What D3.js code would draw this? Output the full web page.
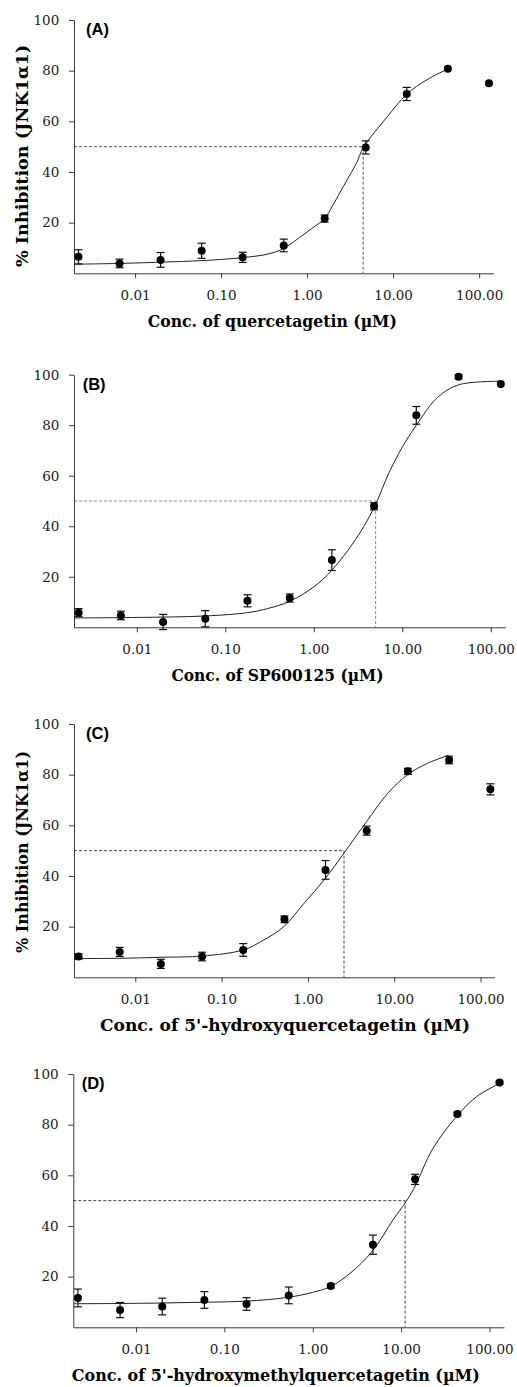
<!DOCTYPE html>
<html>
<head>
<meta charset="utf-8">
<script src="https://cdn.jsdelivr.net/npm/d3@7"></script>
<style>
  html, body { margin: 0; padding: 0; background: #fff; }
  svg { display: block; }
</style>
</head>
<body>
<script>
// ---------- DATA ----------
const conc = [0.0022, 0.0066, 0.0198, 0.0594, 0.178, 0.535, 1.6, 4.8, 14.4, 43.3, 130];
const xTicks = [0.01, 0.1, 1, 10, 100];
const xTickLabels = ["0.01", "0.10", "1.00", "10.00", "100.00"];
const yTicks = [20, 40, 60, 80, 100];

const inhibA = [6.5, 3.9, 5.3, 8.9, 6.3, 11.0, 21.6, 49.7, 70.8, 80.8, 75.0];
const errA   = [2.8, 1.7, 2.9, 3.0, 2.0, 2.5, 1.4, 2.6, 2.6, 0, 0];
const curveAx = [0.00195, 0.0066, 0.02, 0.06, 0.178, 0.35, 0.535, 0.82, 1.2, 1.6, 2.0, 2.87, 3.75, 4.5, 8.4, 14.4, 24.4, 43.3];
const curveAy = [3.6, 3.9, 4.4, 5.0, 6.2, 7.6, 9.8, 14.2, 18.3, 21.6, 27.0, 36.5, 43.5, 49.6, 61.5, 70.7, 76.3, 80.7];
const ic50A = 4.48;

const inhibB = [5.8, 4.7, 2.1, 3.4, 10.5, 11.6, 26.6, 47.9, 83.9, 99.2, 96.3];
const errB   = [1.6, 1.7, 3.0, 3.2, 2.4, 1.6, 4.1, 1.4, 3.5, 0.8, 0];
const curveBx = [0.00195, 0.01, 0.06, 0.178, 0.3, 0.535, 1.0, 1.6, 3.0, 4.8, 7.0, 10, 14.4, 25, 43.3, 130];
const curveBy = [3.7, 3.9, 4.5, 5.8, 7.4, 10.3, 16.0, 22.6, 35.0, 47.4, 60.8, 71.3, 80.0, 91.0, 96.0, 97.4];
const ic50B = 5.0;

const inhibC = [8.2, 10.0, 5.3, 8.2, 10.8, 22.9, 42.4, 57.9, 81.3, 85.8, 74.2];
const errC   = [1.0, 1.8, 1.8, 1.7, 2.5, 1.3, 3.7, 1.8, 1.2, 1.5, 2.2];
const curveCx = [0.00195, 0.0066, 0.02, 0.06, 0.178, 0.3, 0.526, 0.9, 1.6, 2.69, 4.77, 8.4, 14.3, 24.4, 43.2];
const curveCy = [7.4, 7.5, 7.9, 8.4, 10.8, 14.5, 20.0, 29.2, 39.1, 49.6, 61.4, 72.6, 80.0, 84.5, 87.7];
const ic50C = 2.62;

const inhibD = [11.6, 6.8, 8.2, 10.8, 9.2, 12.6, 16.3, 32.6, 58.4, 84.2, 96.6];
const errD   = [3.5, 3.0, 3.3, 3.3, 2.5, 3.3, 0.8, 3.8, 2.0, 0.7, 0.5];
const curveDx = [0.00195, 0.0066, 0.02, 0.06, 0.175, 0.52, 1.0, 1.57, 2.64, 4.67, 8.1, 11.2, 14.0, 23, 41.7, 71, 125.5];
const curveDy = [9.3, 9.4, 9.6, 9.9, 10.3, 11.8, 13.8, 16.0, 21.3, 29.8, 42.4, 49.3, 54.9, 70.7, 82.9, 91.0, 96.0];
const ic50D = 11.1;

const xTitles = ["Conc. of quercetagetin (\u00b5M)", "Conc. of SP600125 (\u00b5M)",
                 "Conc. of 5'-hydroxyquercetagetin (\u00b5M)", "Conc. of 5'-hydroxymethylquercetagetin (\u00b5M)"];
const yTitle = "% Inhibition (JNK1\u03b11)";
const panelLabels = ["(A)", "(B)", "(C)", "(D)"];

// ---------- LAYOUT ----------
const layout = [
  {left: 74, right: 493.3, top: 20, bottom: 273.3, labelX: 86, titleX: 272.3, titleW: 249, yTitle: {cy: 156, len: 222}, dash: "#555"},
  {left: 74, right: 505.3, top: 374.7, bottom: 627.3, labelX: 82.7, titleX: 277.5, titleW: 212, yTitle: null, dash: "#8a8a8a"},
  {left: 74, right: 494.7, top: 724, bottom: 977.3, labelX: 86, titleX: 285, titleW: 370, yTitle: {cy: 852, len: 202}, dash: "#444"},
  {left: 73.3, right: 504, top: 1074, bottom: 1327.3, labelX: 81.7, titleX: 275.8, titleW: 408, yTitle: null, dash: "#444"}
];
const series = [
  {v: inhibA, e: errA, cx: curveAx, cy: curveAy, ic: ic50A},
  {v: inhibB, e: errB, cx: curveBx, cy: curveBy, ic: ic50B},
  {v: inhibC, e: errC, cx: curveCx, cy: curveCy, ic: ic50C},
  {v: inhibD, e: errD, cx: curveDx, cy: curveDy, ic: ic50D}
];

const svg = d3.select("body").append("svg").attr("width", 517).attr("height", 1387);
const axisColor = "#3a3a3a";
const serif = "'DejaVu Serif', serif";

layout.forEach((L, i) => {
  const S = series[i];
  const x = d3.scaleLog().domain([0.00195, 146]).range([L.left, L.right]);
  const y = d3.scaleLinear().domain([0, 100]).range([L.bottom, L.top]);
  const g = svg.append("g");

  // dashed IC50 guide lines
  g.append("line").attr("x1", L.left).attr("x2", x(S.ic)).attr("y1", y(50)).attr("y2", y(50))
    .attr("stroke", L.dash).attr("stroke-width", 1).attr("stroke-dasharray", "3,2");
  g.append("line").attr("x1", x(S.ic)).attr("x2", x(S.ic)).attr("y1", y(50)).attr("y2", y(0))
    .attr("stroke", L.dash).attr("stroke-width", 1).attr("stroke-dasharray", "3,2");

  // axes
  const xa = g.append("g").attr("transform", `translate(0,${y(0)})`)
    .call(d3.axisBottom(x).tickValues(xTicks).tickFormat((d, k) => xTickLabels[k]).tickSize(5).tickSizeOuter(0));
  xa.selectAll("text").attr("dy", 0).attr("y", 26.5)
    .style("font-family", serif).style("font-size", "13.5px").attr("fill", "#1a1a1a");
  const ya = g.append("g").attr("transform", `translate(${L.left},0)`)
    .call(d3.axisLeft(y).tickValues(yTicks).tickSize(5).tickSizeOuter(0).tickPadding(9.7));
  ya.selectAll("text").style("font-family", serif).style("font-size", "13.5px").attr("fill", "#1a1a1a");
  [xa, ya].forEach(a => { a.selectAll("path,line").attr("stroke", axisColor); a.attr("font-family", null); });

  // fitted curve
  const pts = S.cx.map((c, k) => [c, S.cy[k]]);
  g.append("path").datum(pts)
    .attr("d", d3.line().x(d => x(d[0])).y(d => y(d[1])).curve(d3.curveCatmullRom.alpha(0.5)))
    .attr("fill", "none").attr("stroke", "#222").attr("stroke-width", 1);

  // error bars
  const data = conc.map((c, k) => ({c, v: S.v[k], e: S.e[k]})).filter(d => d.e > 0);
  const eb = g.append("g").attr("stroke", "#111").attr("stroke-width", 1.2);
  data.forEach(d => {
    eb.append("line").attr("x1", x(d.c)).attr("x2", x(d.c)).attr("y1", y(d.v - d.e)).attr("y2", y(d.v + d.e));
    [d.v - d.e, d.v + d.e].forEach(t => eb.append("line")
      .attr("x1", x(d.c) - 4).attr("x2", x(d.c) + 4).attr("y1", y(t)).attr("y2", y(t)));
  });

  // points
  g.selectAll("circle.pt").data(conc.map((c, k) => ({c, v: S.v[k]}))).enter()
    .append("circle").attr("class", "pt")
    .attr("cx", d => x(d.c)).attr("cy", d => y(d.v)).attr("r", 4).attr("fill", "#000");

  // panel label
  g.append("text").attr("x", L.labelX).attr("y", L.top + 15.3).text(panelLabels[i])
    .style("font-family", "'Liberation Sans', Arial, sans-serif").style("font-weight", "bold")
    .style("font-size", "16.5px").attr("fill", "#000");

  // x title
  g.append("text").attr("x", L.titleX).attr("y", L.bottom + 54).attr("text-anchor", "middle")
    .attr("textLength", L.titleW).attr("lengthAdjust", "spacingAndGlyphs")
    .text(xTitles[i]).style("font-family", serif).style("font-weight", "bold")
    .style("font-size", "16px").attr("fill", "#000");

  // y title
  if (L.yTitle) {
    g.append("text").attr("transform", `translate(27.5,${L.yTitle.cy}) rotate(-90)`)
      .attr("text-anchor", "middle")
      .attr("textLength", L.yTitle.len).attr("lengthAdjust", "spacingAndGlyphs")
      .text(yTitle).style("font-family", serif).style("font-weight", "bold")
      .style("font-size", "16.5px").attr("fill", "#000");
  }
});
</script>
</body>
</html>
